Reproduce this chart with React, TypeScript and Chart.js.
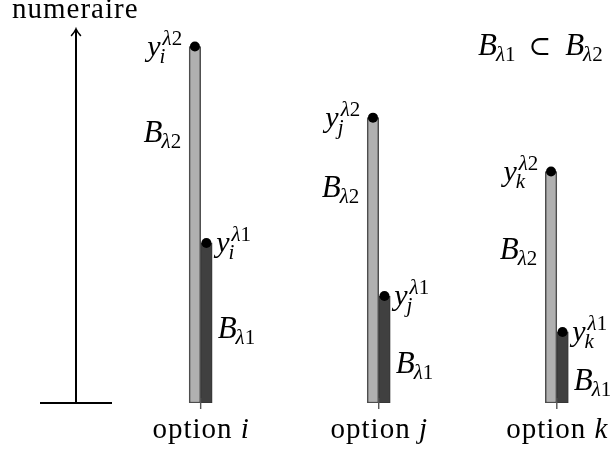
import React, { useEffect, useRef } from "react";
import { Chart, registerables } from "chart.js";

Chart.register(...registerables);

// ---- data ----
const categories = ["i", "j", "k"];
const upperBudget = [9.53, 7.63, 6.19]; // y^{λ2}
const lowerBudget = [4.28, 2.86, 1.9]; // y^{λ1}
const upperLabelLevel = [6.98, 5.51, 3.85]; // where B_{λ2} text sits
const lowerLabelLevel = [1.74, 0.8, 0.35]; // where B_{λ1} text sits
const axisTitle = "numeraire";
const optionWord = "option";

type Seg = { t: string; it?: boolean; size?: number };
type Atom = { base: Seg[]; sup?: Seg[]; sub?: Seg[]; subDy?: number; supDy?: number; gap?: number };

const FAM = '"Liberation Serif", "DejaVu Serif", serif';
const BIG = 29;
const SMALL = 21;

function setFont(ctx: CanvasRenderingContext2D, size: number, italic?: boolean) {
  ctx.font = `${italic ? "italic " : ""}${size}px ${FAM}`;
  (ctx as any).letterSpacing = !italic && size === BIG ? "1px" : "0px";
}
function segsWidth(ctx: CanvasRenderingContext2D, segs: Seg[], size: number) {
  let w = 0;
  for (const s of segs) {
    setFont(ctx, s.size ?? size, s.it);
    w += ctx.measureText(s.t).width;
  }
  return w;
}
function drawSegs(ctx: CanvasRenderingContext2D, segs: Seg[], size: number, x: number, y: number) {
  let cx = x;
  for (const s of segs) {
    setFont(ctx, s.size ?? size, s.it);
    ctx.fillText(s.t, cx, y);
    cx += ctx.measureText(s.t).width;
  }
}
function atomWidth(ctx: CanvasRenderingContext2D, a: Atom) {
  if (a.gap !== undefined) return a.gap;
  const bw = segsWidth(ctx, a.base, BIG);
  const sw = a.sup ? segsWidth(ctx, a.sup, SMALL) + 2 : 0;
  const bw2 = a.sub ? segsWidth(ctx, a.sub, SMALL) : 0;
  return bw + Math.max(sw, bw2);
}
function drawRow(
  ctx: CanvasRenderingContext2D,
  atoms: Atom[],
  x: number,
  y: number,
  align: "left" | "right" | "center"
) {
  const total = atoms.reduce((s, a) => s + atomWidth(ctx, a), 0);
  let cx = align === "left" ? x : align === "right" ? x - total : x - total / 2;
  ctx.textAlign = "left";
  ctx.textBaseline = "alphabetic";
  for (const a of atoms) {
    if (a.gap === undefined) {
      const bw = segsWidth(ctx, a.base, BIG);
      drawSegs(ctx, a.base, BIG, cx, y);
      if (a.sup) drawSegs(ctx, a.sup, SMALL, cx + bw + 2, y - (a.supDy ?? 11));
      if (a.sub) drawSegs(ctx, a.sub, SMALL, cx + bw - 1, y + (a.subDy ?? 7));
    }
    cx += atomWidth(ctx, a);
  }
}

const lam = (n: string): Seg[] => [{ t: "λ", it: true }, { t: n }];
const bigB: Seg[] = [{ t: "B", it: true, size: 31 }];

const annotPlugin = {
  id: "annot",
  afterDatasetsDraw(chart: any) {
    const ctx: CanvasRenderingContext2D = chart.ctx;
    const xs = chart.scales.x;
    const ys = chart.scales.y;
    const area = chart.chartArea;
    const up = chart.getDatasetMeta(0).data;
    const lo = chart.getDatasetMeta(1).data;
    ctx.save();
    ctx.fillStyle = "#000";
    ctx.strokeStyle = "#000";
    // numeraire axis
    ctx.lineWidth = 2;
    ctx.lineCap = "butt";
    ctx.beginPath();
    ctx.moveTo(area.left, area.bottom);
    ctx.lineTo(area.left, area.top + 1);
    ctx.stroke();
    ctx.lineWidth = 1.6;
    ctx.lineCap = "round";
    ctx.beginPath();
    ctx.moveTo(area.left - 4.5, area.top + 6.5);
    ctx.quadraticCurveTo(area.left - 1, area.top + 2.5, area.left, area.top);
    ctx.quadraticCurveTo(area.left + 1, area.top + 2.5, area.left + 4.5, area.top + 6.5);
    ctx.stroke();
    ctx.lineWidth = 2;
    ctx.lineCap = "butt";
    ctx.beginPath();
    ctx.moveTo(area.left - 36, area.bottom);
    ctx.lineTo(area.left + 36, area.bottom);
    ctx.stroke();
    // category ticks
    ctx.strokeStyle = "#555";
    ctx.lineWidth = 1.4;
    categories.forEach((_, i) => {
      const px = xs.getPixelForValue(i);
      ctx.beginPath();
      ctx.moveTo(px, area.bottom - 5);
      ctx.lineTo(px, area.bottom + 6);
      ctx.stroke();
    });
    // dots
    [...up, ...lo].forEach((el: any) => {
      ctx.beginPath();
      ctx.arc(el.x, el.y, 5, 0, Math.PI * 2);
      ctx.fill();
    });
    // labels
    categories.forEach((c, i) => {
      const u = up[i];
      const l = lo[i];
      const uLeft = u.x - u.width / 2;
      const lRight = l.x + l.width / 2;
      drawRow(ctx, [{ base: [{ t: "y", it: true, size: 30 }], sup: lam("2"), sub: [{ t: c, it: true }] }], uLeft - 7, u.y + 9.5, "right");
      drawRow(ctx, [{ base: [{ t: "y", it: true, size: 30 }], sup: lam("1"), sub: [{ t: c, it: true }] }], lRight + 4, l.y + 9, "left");
      drawRow(ctx, [{ base: bigB, sub: lam("2"), subDy: 6 }], uLeft - 7, ys.getPixelForValue(upperLabelLevel[i]), "right");
      drawRow(ctx, [{ base: bigB, sub: lam("1"), subDy: 6 }], lRight + 5.5, ys.getPixelForValue(lowerLabelLevel[i]), "left");
      drawRow(ctx, [{ base: [{ t: optionWord + " " }, { t: c, it: true }] }], xs.getPixelForValue(i), area.bottom + 35, "center");
    });
    // axis title and relation
    drawRow(ctx, [{ base: [{ t: axisTitle }] }], 12, 17.5, "left");
    drawRow(
      ctx,
      [
        { base: bigB, sub: lam("1"), subDy: 6 },
        { base: [], gap: 12 },
        { base: [{ t: "⊂", size: 27 }] },
        { base: [], gap: 14 },
        { base: bigB, sub: lam("2"), subDy: 6 },
      ],
      478,
      55,
      "left"
    );
    ctx.restore();
  },
};

export default function App() {
  const ref = useRef<HTMLCanvasElement | null>(null);
  useEffect(() => {
    if (!ref.current) return;
    const chart = new Chart(ref.current, {
      type: "bar",
      data: {
        datasets: [
          {
            label: "B_λ2",
            data: categories.map((_, i) => ({ x: i, y: upperBudget[i] })),
            backgroundColor: "#b0b0b0",
            borderColor: "#4d4d4d",
            borderWidth: 1.5,
            borderSkipped: false,
            barThickness: 11.5,
          },
          {
            label: "B_λ1",
            data: categories.map((_, i) => ({ x: i, y: lowerBudget[i] })),
            backgroundColor: "#404040",
            borderColor: "#333333",
            borderWidth: 1,
            borderSkipped: false,
            barThickness: 11.5,
          },
        ],
      } as any,
      options: {
        animation: false,
        responsive: false,
        devicePixelRatio: 1,
        events: [],
        layout: { padding: { left: 76, top: 29, right: 0, bottom: 49 } },
        scales: {
          x: { type: "linear", min: -0.7, max: 2.31, display: false, offset: false },
          y: { min: 0, max: 10, display: false },
        },
        plugins: { legend: { display: false }, tooltip: { enabled: false } },
      } as any,
      plugins: [annotPlugin],
    });
    return () => chart.destroy();
  }, []);
  return (
    <div style={{ position: "absolute", left: 0, top: 0, width: 612, height: 452, background: "#fff" }}>
      <canvas ref={ref} width={612} height={452} style={{ display: "block" }} />
    </div>
  );
}
